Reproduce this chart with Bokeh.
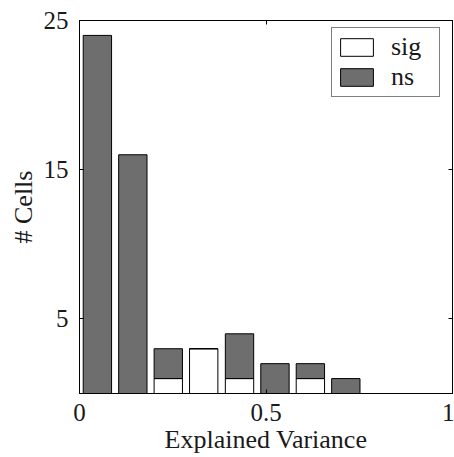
from bokeh.plotting import figure
from bokeh.models import ColumnDataSource, FixedTicker, LinearAxis, Legend, LegendItem, Range1d, CustomJSTickFormatter
from bokeh.embed import file_html
from bokeh.resources import INLINE

# Data
bin_centers = [0.048, 0.143, 0.238, 0.333, 0.429, 0.524, 0.619, 0.714]
sig_counts = [0, 0, 1, 3, 1, 0, 1, 0]
ns_counts = [24, 16, 2, 0, 3, 2, 1, 1]
x_ticks = [0, 0.5, 1]
y_ticks = [5, 15, 25]

bar_width = 0.076
FONT = "Liberation Serif"
FS = "25px"
FS_LABEL = "26px"
TXT = "#1a1a1a"

tops_sig = sig_counts
tops_ns = [s + n for s, n in zip(sig_counts, ns_counts)]

p = figure(width=454, height=457, output_backend="svg", toolbar_location=None,
           x_range=Range1d(0, 1), y_range=Range1d(0, 25),
           min_border_left=79, min_border_right=2, min_border_top=20, min_border_bottom=64)
p.xgrid.visible = False
p.ygrid.visible = False
p.outline_line_color = "black"
p.outline_line_width = 1

src = ColumnDataSource(dict(x=bin_centers, sig=tops_sig, ns_top=tops_ns))
r_sig = p.vbar(x="x", width=bar_width, bottom=0, top="sig", source=src,
               fill_color="white", line_color="black", line_width=1)
r_ns = p.vbar(x="x", width=bar_width, bottom="sig", top="ns_top", source=src,
              fill_color="#6e6e6e", line_color="black", line_width=1)

for ax in [p.xaxis[0], p.yaxis[0]]:
    ax.major_tick_in = 4
    ax.major_tick_out = 0
    ax.minor_tick_in = 0
    ax.minor_tick_out = 0
    ax.axis_line_color = "black"
    ax.major_tick_line_color = "black"
    ax.major_label_text_font = FONT
    ax.major_label_text_font_size = FS
    ax.major_label_text_color = TXT
    ax.axis_label_text_font = FONT
    ax.axis_label_text_font_size = FS_LABEL
    ax.axis_label_text_font_style = "normal"
    ax.axis_label_text_color = TXT

p.xaxis[0].ticker = FixedTicker(ticks=x_ticks)
p.yaxis[0].ticker = FixedTicker(ticks=y_ticks)
p.xaxis[0].axis_label = "Explained Variance"
p.yaxis[0].axis_label = "# Cells"
p.xaxis[0].major_label_text_line_height = 0.9
p.xaxis[0].axis_label_text_line_height = 0.9
p.xaxis[0].major_label_standoff = 10
p.xaxis[0].axis_label_standoff = 1
p.yaxis[0].major_label_standoff = 11
p.yaxis[0].axis_label_standoff = 3

blank = CustomJSTickFormatter(code="return ''")
top_ax = LinearAxis(ticker=FixedTicker(ticks=x_ticks), formatter=blank,
                    major_tick_in=4, major_tick_out=0, minor_tick_in=0, minor_tick_out=0,
                    major_label_standoff=0, major_label_text_font_size="1px")
right_ax = LinearAxis(ticker=FixedTicker(ticks=y_ticks), formatter=blank,
                      major_tick_in=4, major_tick_out=0, minor_tick_in=0, minor_tick_out=0,
                      major_label_standoff=0, major_label_text_font_size="1px")
p.add_layout(top_ax, "above")
p.add_layout(right_ax, "right")

legend = Legend(items=[LegendItem(label="sig", renderers=[r_sig]),
                       LegendItem(label="ns", renderers=[r_ns])])
legend.margin = 0
legend.border_line_color = "black"
legend.border_line_width = 1
legend.label_text_font = FONT
legend.label_text_font_size = "26px"
legend.label_text_color = TXT
legend.glyph_width = 41
legend.glyph_height = 22
legend.spacing = 0
legend.padding = 4
legend.label_standoff = 14
legend.label_width = 44
p.add_layout(legend, "center")
legend.location = (252, 296)

open("out.html", "w").write(file_html(p, INLINE))
